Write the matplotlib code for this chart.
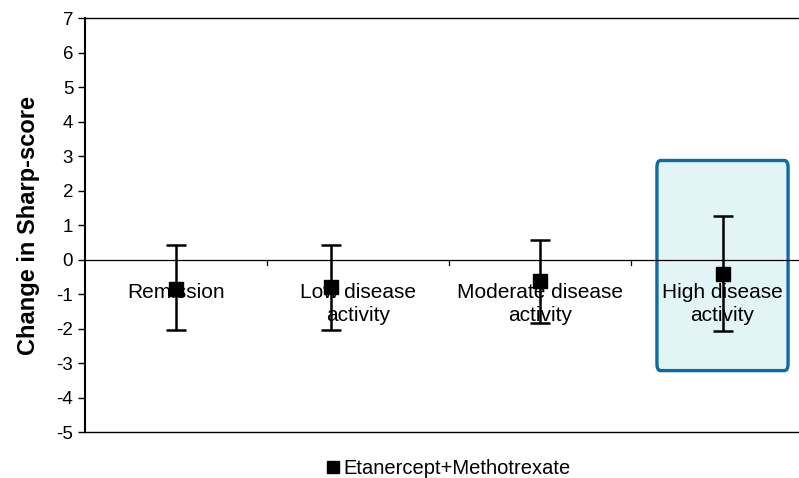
import matplotlib.pyplot as plt
from matplotlib.patches import FancyBboxPatch
from matplotlib.lines import Line2D

plt.rcParams['font.family'] = ['Liberation Sans', 'DejaVu Sans']
plt.rcParams['axes.unicode_minus'] = False

# Sharp-score change per disease-activity group
categories = ['Remission', 'Low disease\nactivity', 'Moderate disease\nactivity', 'High disease\nactivity']
x_pos = [0.0, 0.85, 2.0, 3.0]
means = [-0.85, -0.80, -0.62, -0.42]
upper = [0.41, 0.42, 0.58, 1.27]
lower = [-2.05, -2.05, -1.85, -2.08]
series_name = 'Etanercept+Methotrexate'

fig = plt.figure(figsize=(7.99, 4.78), dpi=100)
ax = fig.add_axes([0.1064, 0.0962, 0.8936, 0.8661])

# highlighted group
box = FancyBboxPatch((2.64, -3.22), 0.72, 6.09,
                     boxstyle='round,pad=0,rounding_size=0.02',
                     facecolor='#e2f4f5', edgecolor='#0f6ba3', linewidth=2.4,
                     mutation_aspect=10, zorder=1, clip_on=False)
ax.add_patch(box)

# zero line with category separators
ax.axhline(0, color='black', linewidth=0.9, zorder=2)
for b in [0.5, 1.5, 2.5]:
    ax.plot([b, b], [0, -0.15], color='black', linewidth=0.9, zorder=2)

err_lo = [m - l for m, l in zip(means, lower)]
err_hi = [u - m for m, u in zip(means, upper)]
ax.errorbar(x_pos, means, yerr=[err_lo, err_hi], fmt='s', color='black',
            markersize=10, elinewidth=1.8, capsize=7, capthick=1.8, zorder=4)

label_x = [0, 1, 2, 3]
for lx, lab in zip(label_x, categories):
    ax.text(lx, -0.68, lab, ha='center', va='top', fontsize=15,
            linespacing=1.3, zorder=3)

ax.set_xlim(-0.5, 3.42)
ax.set_ylim(-5, 7)
ax.set_yticks(range(-5, 8))
ax.set_xticks([])
ax.tick_params(axis='y', labelsize=13.5, length=5, width=1)
ax.set_ylabel('Change in Sharp-score', fontsize=17, fontweight='bold', labelpad=12)

ax.spines['left'].set_linewidth(1.5)
ax.spines['top'].set_linewidth(1.0)
ax.spines['bottom'].set_linewidth(1.0)
ax.spines['right'].set_visible(False)

handle = Line2D([], [], marker='s', color='black', linestyle='none', markersize=9)
fig.legend([handle], [series_name], loc='center', bbox_to_anchor=(0.56, 0.02),
           frameon=False, fontsize=14.5, handletextpad=0.05, handlelength=0.9)

fig.savefig('out.png', dpi=100)
